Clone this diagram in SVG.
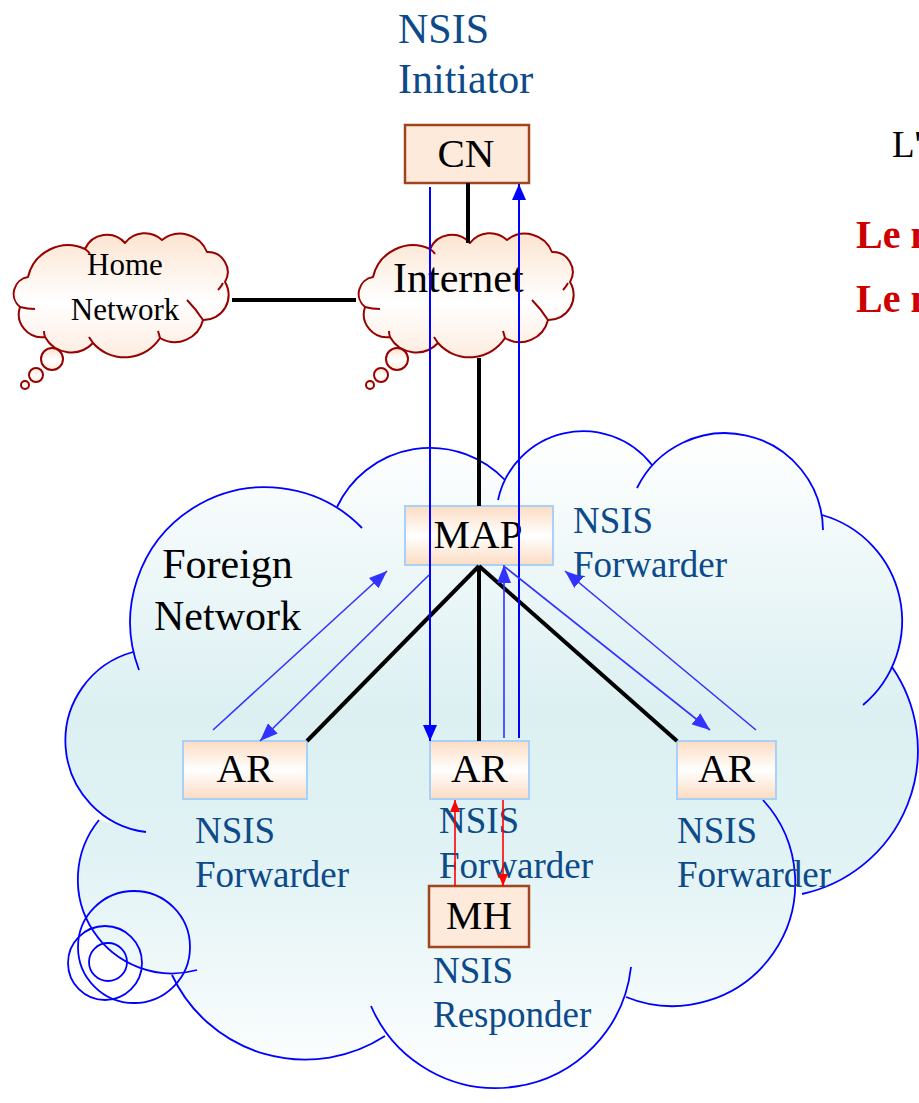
<svg xmlns="http://www.w3.org/2000/svg" width="919" height="1103" viewBox="0 0 919 1103">
<style>
.lbl{font-family:"Liberation Serif","Times New Roman",serif;font-size:37px;fill:#0c4a8a}
.big{font-family:"Liberation Serif","Times New Roman",serif;font-size:42px;fill:#000}
.nodetxt{font-family:"Liberation Serif","Times New Roman",serif;font-size:41px;fill:#000;text-anchor:middle}
.boxA{fill:url(#boxGrad);stroke:#a8d0f8;stroke-width:2}
.boxB{fill:#fdeadb;stroke:#a0461e;stroke-width:2.5}
.cloudS{fill:url(#smallCloudGrad);stroke:#990000;stroke-width:2;stroke-linejoin:round}
.tail{fill:none;stroke:#990000;stroke-width:2}
.lobe{fill:none;stroke:#0000ff;stroke-width:1.8}
.blk{stroke:#000;stroke-width:4;fill:none}
.blu{stroke:#0000ff;stroke-width:2;fill:none}
.lb{stroke:#3333ff;stroke-width:1.6;fill:none}
.red{stroke:#ff0000;stroke-width:1.6;fill:none}
.red-txt{font-family:"Liberation Serif","Times New Roman",serif;font-size:40px;font-weight:bold;fill:#cc0000}
</style>
<defs>
<linearGradient id="boxGrad" x1="0" y1="0" x2="0" y2="1">
<stop offset="0" stop-color="#fcdcc2"/>
<stop offset="0.5" stop-color="#ffffff"/>
<stop offset="1" stop-color="#fcdcc2"/>
</linearGradient>
<linearGradient id="smallCloudGrad" x1="0" y1="0" x2="0" y2="1">
<stop offset="0" stop-color="#fce4d0"/>
<stop offset="0.55" stop-color="#ffffff"/>
<stop offset="1" stop-color="#fdece0"/>
</linearGradient>
<linearGradient id="fnGrad" gradientUnits="userSpaceOnUse" x1="0" y1="430" x2="0" y2="1100">
<stop offset="0" stop-color="#ffffff"/>
<stop offset="0.42" stop-color="#dcf0f2"/>
<stop offset="0.62" stop-color="#e0f2f4"/>
<stop offset="1" stop-color="#ffffff"/>
</linearGradient>
<marker id="arB" markerUnits="userSpaceOnUse" viewBox="0 0 16 14" markerWidth="16" markerHeight="14" refX="16" refY="7" orient="auto"><path d="M0,0 L16,7 L0,14 Z" fill="#0000ff"/></marker>
<marker id="arL" markerUnits="userSpaceOnUse" viewBox="0 0 18 14" markerWidth="18" markerHeight="14" refX="18" refY="7" orient="auto"><path d="M0,0 L18,7 L0,14 Z" fill="#3333ff"/></marker>
<marker id="arR" markerUnits="userSpaceOnUse" viewBox="0 0 12 10" markerWidth="12" markerHeight="10" refX="12" refY="5" orient="auto"><path d="M0,0 L12,5 L0,10 Z" fill="#ff0000"/></marker>
<path id="cloudShape" d="M365,307 A17,17 0 0 1 373,277 A41,41 0 0 1 430,249 A24,24 0 0 1 470,243 A25,25 0 0 1 507,240 A29,29 0 0 1 552,252 A20,20 0 0 1 570,282 A25,25 0 0 1 548,320 A29,29 0 0 1 505,338 A42,42 0 0 1 438,343 A30,30 0 0 1 390,337 A23,23 0 0 1 365,307 Z"/>
<path id="cloudTails" d="M365,307 Q372,309 380,309 M430,249 Q433,251 435,254 M532,300 Q541,309 548,320 M568,283 Q566,287 563,290 M505,338 Q504,334 503,331 M438,343 Q436,340 434,337 M390,337 Q389,334 389,331"/>
</defs>

<g id="foreign-network">
<path d="M139,670 A135,135 0 0 1 362,528 L337,507 A103,103 0 0 1 505,480 L498,500 A87,87 0 0 1 652,465 L637,488 A98,98 0 0 1 823,530 L822,515 A110,110 0 0 1 863,705 L892,667 A147,147 0 0 1 802,894 L763,800 A123,123 0 0 1 626,997 L631,967 A136,136 0 0 1 371,1006 L385,1036 A147,147 0 0 1 172,975 L197,970 A94,94 0 0 1 99,820 L146,832 A92,92 0 0 1 133,652 Z" fill="url(#fnGrad)" stroke="none"/>
<path class="lobe" d="M139,670 A135,135 0 0 1 362,528"/>
<path class="lobe" d="M337,507 A103,103 0 0 1 505,480"/>
<path class="lobe" d="M498,500 A87,87 0 0 1 652,465"/>
<path class="lobe" d="M637,488 A98,98 0 0 1 823,530"/>
<path class="lobe" d="M822,515 A110,110 0 0 1 863,705"/>
<path class="lobe" d="M892,667 A147,147 0 0 1 802,894"/>
<path class="lobe" d="M763,800 A123,123 0 0 1 626,997"/>
<path class="lobe" d="M631,967 A136,136 0 0 1 371,1006"/>
<path class="lobe" d="M385,1036 A147,147 0 0 1 172,975"/>
<path class="lobe" d="M197,970 A94,94 0 0 1 99,820"/>
<path class="lobe" d="M146,832 A92,92 0 0 1 133,652"/>
<circle class="lobe" cx="108" cy="962" r="19"/>
<circle class="lobe" cx="105" cy="963" r="37"/>
<circle class="lobe" cx="134" cy="947" r="56"/>
<text class="big" x="227.5" y="578" text-anchor="middle">Foreign</text>
<text class="big" x="227.5" y="630" text-anchor="middle">Network</text>
</g>

<g id="home-network">
<use href="#cloudShape" class="cloudS" transform="translate(-345,0)"/>
<use href="#cloudTails" class="tail" transform="translate(-345,0)"/>
<circle class="cloudS" cx="52" cy="359" r="11"/>
<circle class="cloudS" cx="36" cy="375" r="7"/>
<circle class="cloudS" cx="25" cy="385" r="4"/>
<text x="125" y="275" text-anchor="middle" style="font-family:'Liberation Serif','Times New Roman',serif;font-size:31px">Home</text>
<text x="125" y="320" text-anchor="middle" style="font-family:'Liberation Serif','Times New Roman',serif;font-size:31px">Network</text>
</g>

<g id="internet">
<use href="#cloudShape" class="cloudS"/>
<use href="#cloudTails" class="tail"/>
<circle class="cloudS" cx="397" cy="359" r="11"/>
<circle class="cloudS" cx="381" cy="375" r="7"/>
<circle class="cloudS" cx="370" cy="385" r="4"/>
<text class="big" x="393" y="292">Internet</text>
</g>

<g id="CN">
<rect class="boxB" x="405" y="125" width="124" height="58"/>
<text class="nodetxt" x="466" y="167">CN</text>
<text class="big" x="398" y="43" style="fill:#0c4a8a">NSIS</text>
<text class="big" x="398" y="93" style="fill:#0c4a8a">Initiator</text>
</g>

<g id="MAP">
<rect class="boxA" x="405" y="506" width="148" height="59"/>
<text class="nodetxt" x="478" y="548">MAP</text>
<text class="lbl" x="573" y="533">NSIS</text>
<text class="lbl" x="573" y="577">Forwarder</text>
</g>

<g id="AR-left">
<rect class="boxA" x="183" y="741" width="124" height="58"/>
<text class="nodetxt" x="245" y="782">AR</text>
<text class="lbl" x="195" y="843">NSIS</text>
<text class="lbl" x="195" y="887">Forwarder</text>
</g>

<g id="AR-middle">
<rect class="boxA" x="430" y="741" width="99" height="58"/>
<text class="nodetxt" x="479.5" y="782">AR</text>
<text class="lbl" x="439" y="833">NSIS</text>
<text class="lbl" x="439" y="878">Forwarder</text>
</g>

<g id="AR-right">
<rect class="boxA" x="677" y="741" width="99" height="58"/>
<text class="nodetxt" x="726.5" y="782">AR</text>
<text class="lbl" x="677" y="843">NSIS</text>
<text class="lbl" x="677" y="887">Forwarder</text>
</g>

<g id="MH">
<rect class="boxB" x="429" y="886" width="100" height="61"/>
<text class="nodetxt" x="479" y="929">MH</text>
<text class="lbl" x="433" y="983">NSIS</text>
<text class="lbl" x="433" y="1027">Responder</text>
</g>

<g id="side-text">
<text x="892" y="157" style="font-family:'Liberation Serif','Times New Roman',serif;font-size:37px;fill:#000">L'</text>
<text class="red-txt" x="856" y="248">Le m</text>
<text class="red-txt" x="856" y="312">Le m</text>
</g>

<g id="connectors">
<path class="blk" d="M468,183 L468,243"/>
<path class="blk" d="M232,300 L356,300"/>
<path class="blk" d="M479,358 L479,506"/>
<path class="blk" d="M479,566 L307,741"/>
<path class="blk" d="M479,566 L479,741"/>
<path class="blk" d="M479,566 L677,741"/>
<path class="blu" d="M430,187 L430,741" marker-end="url(#arB)"/>
<path class="blu" d="M519,738 L519,184" marker-end="url(#arB)"/>
<path class="lb" d="M213,730 L387,571" marker-end="url(#arL)"/>
<path class="lb" d="M429,575 L260,741" marker-end="url(#arL)"/>
<path class="lb" d="M504,738 L504,565" marker-end="url(#arL)"/>
<path class="lb" d="M505,567 L710,730" marker-end="url(#arL)"/>
<path class="lb" d="M756,730 L565,571" marker-end="url(#arL)"/>
<path class="red" d="M455,886 L455,800" marker-end="url(#arR)"/>
<path class="red" d="M503,800 L503,886" marker-end="url(#arR)"/>
</g>
</svg>
